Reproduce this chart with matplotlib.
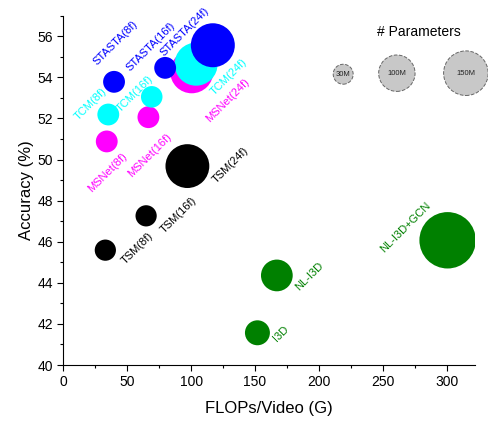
import numpy as np
import matplotlib
matplotlib.use("Agg")
import matplotlib.pyplot as plt
from matplotlib.ticker import MultipleLocator

plt.rcParams['font.family'] = ['Liberation Sans', 'DejaVu Sans']

# ---- data ----
names = ["STASTA(8f)", "STASTA(16f)", "STASTA(24f)",
         "MSNet(8f)", "MSNet(16f)", "MSNet(24f)",
         "TCM(8f)", "TCM(16f)", "TCM(24f)",
         "TSM(8f)", "TSM(16f)", "TSM(24f)",
         "I3D", "NL-I3D", "NL-I3D+GCN"]
flops = [39.7, 79.7, 117.0,
         34.0, 66.6, 100.5,
         35.2, 69.2, 103.9,
         32.9, 64.8, 97.1,
         151.9, 167.1, 300.7]
acc = [53.78, 54.46, 55.56,
       50.88, 52.06, 54.27,
       52.19, 53.05, 54.64,
       45.59, 47.26, 49.68,
       41.57, 44.36, 46.07]
params_m = [36, 36, 146,
            36, 36, 140,
            36, 35, 140,
            34, 34, 145,
            47, 76, 240]
colors = ["#0000ff"] * 3 + ["#ff00ff"] * 3 + ["#00ffff"] * 3 + ["#000000"] * 3 + ["#008000"] * 3
label_x = [40.6, 68.4, 95.3,
           34.5, 67.9, 128.7,
           21.4, 56.1, 129.2,
           58.0, 90.1, 130.5,
           170.2, 192.4, 268.1]
label_y = [55.65, 55.5, 56.2,
           49.37, 50.2, 52.9,
           52.7, 53.2, 54.0,
           45.68, 47.3, 49.73,
           41.54, 44.33, 46.7]

legend_params = [30, 100, 150]
legend_labels = ["30M", "100M", "150M"]
legend_x = [219, 261, 315]
legend_y = [54.15, 54.2, 54.2]

# ---- plot ----
DPI = 100
fig = plt.figure(figsize=(4.88, 4.23), dpi=DPI)
ax = fig.add_axes([0.1297, 0.137, 0.8433, 0.826])

PX_PER_SQRT_M = 1.82  # bubble radius in pixels per sqrt(M params)


def size_from_params(p):
    r_px = PX_PER_SQRT_M * np.sqrt(np.asarray(p, dtype=float))
    d_pt = 2 * r_px * 72.0 / DPI
    return d_pt ** 2

order = [3, 4, 5, 6, 7, 8, 0, 1, 2, 9, 10, 11, 12, 13, 14]
for i in order:
    ax.scatter(flops[i], acc[i], s=size_from_params(params_m[i]), c=colors[i],
               edgecolors='none', zorder=3)
for i in range(len(names)):
    ax.text(label_x[i], label_y[i], names[i], color=colors[i], fontsize=8,
            rotation=45, rotation_mode='anchor', ha='center', va='center', zorder=4)

for p, lab, lx, ly in zip(legend_params, legend_labels, legend_x, legend_y):
    ax.scatter(lx, ly, s=size_from_params(p), c="#c8c8c8", edgecolors="#666666",
               linewidths=0.7, linestyle='--', clip_on=False, zorder=3)
    ax.text(lx, ly, lab, fontsize=5.5, ha='center', va='center', color='#222222', zorder=4)
ax.text(278, 56.2, "# Parameters", fontsize=10, ha='center', va='center')

ax.set_xlim(0, 322)
ax.set_ylim(40, 57)
ax.xaxis.set_major_locator(MultipleLocator(50))
ax.xaxis.set_minor_locator(MultipleLocator(25))
ax.yaxis.set_major_locator(MultipleLocator(2))
ax.yaxis.set_minor_locator(MultipleLocator(1))
ax.set_yticks(np.arange(40, 57, 2))
ax.spines['top'].set_visible(False)
ax.spines['right'].set_visible(False)
ax.tick_params(which='major', direction='out', length=4, width=0.8, labelsize=10)
ax.tick_params(which='minor', direction='out', length=2.5, width=0.8)
ax.set_xlabel("FLOPs/Video (G)", fontsize=12, labelpad=8)
ax.set_ylabel("Accuracy (%)", fontsize=12, labelpad=2)

fig.savefig("out.png", dpi=DPI)
